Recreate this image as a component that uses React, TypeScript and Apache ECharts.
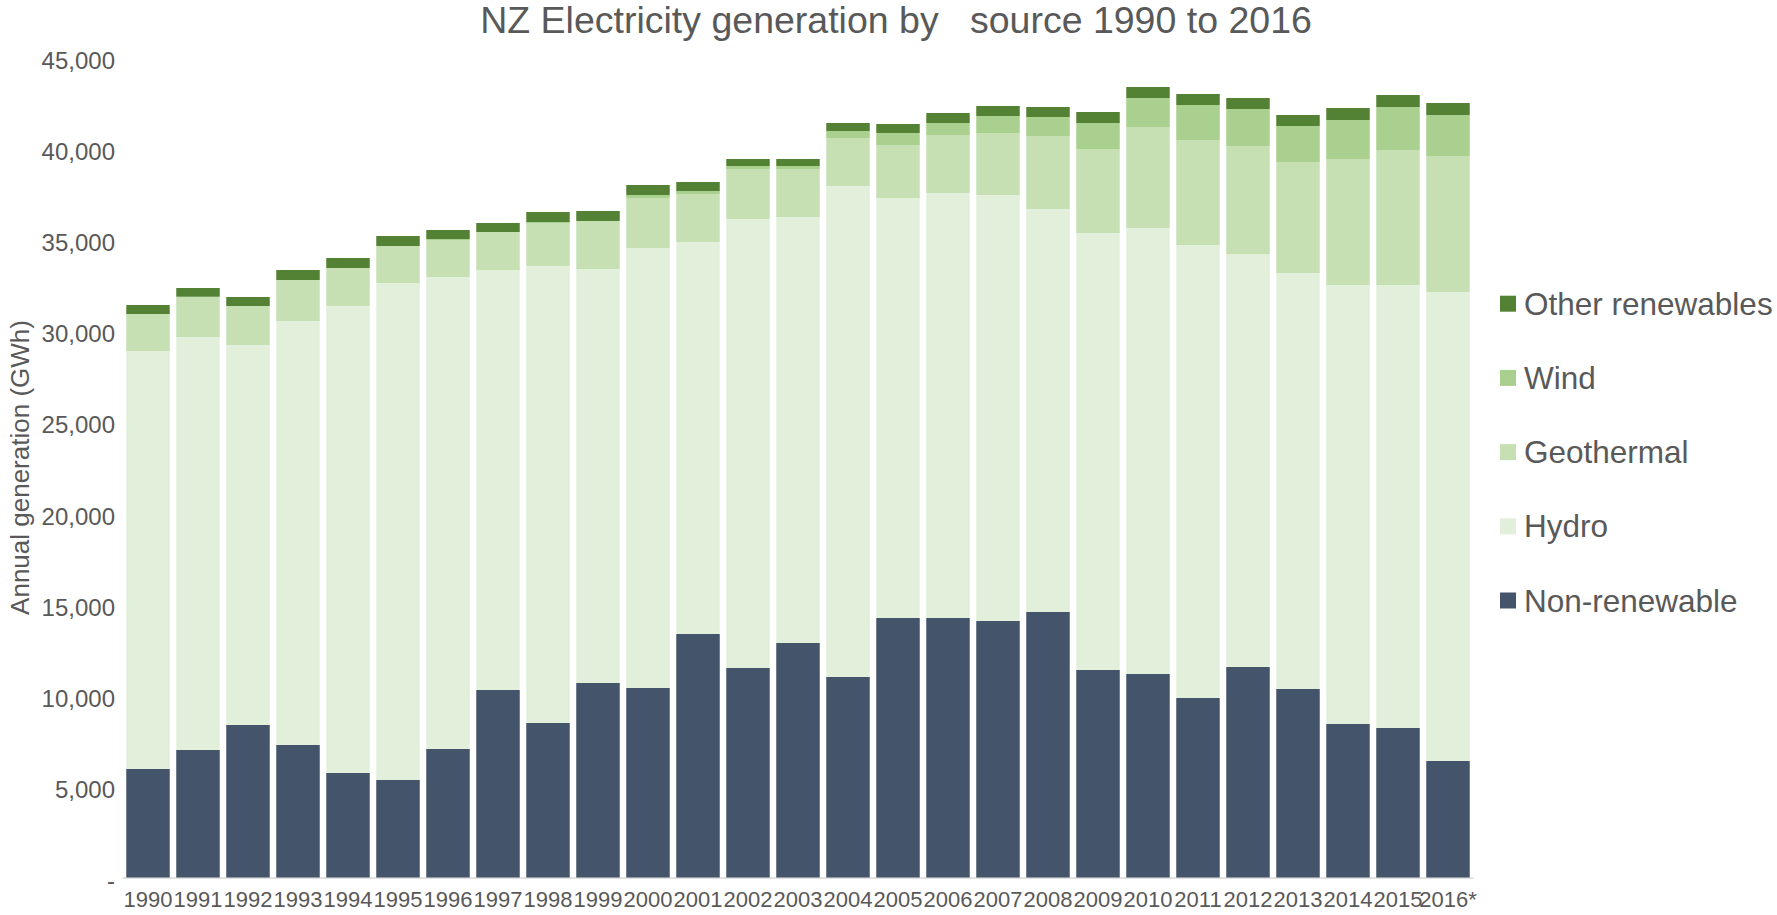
import React, { useEffect, useRef } from "react";
import * as echarts from "echarts";

const years = [
  "1990", "1991", "1992", "1993", "1994", "1995", "1996", "1997", "1998", "1999",
  "2000", "2001", "2002", "2003", "2004", "2005", "2006", "2007", "2008", "2009",
  "2010", "2011", "2012", "2013", "2014", "2015", "2016*",
];

const nonRenewable = [
  5954, 6997, 8369, 7271, 5735, 5351, 7052, 10290, 8479, 10674,
  10400, 13363, 11497, 12869, 11003, 14241, 14241, 14076, 14570, 11387,
  11168, 9851, 11552, 10345, 8424, 8204, 6393,
];
const hydro = [
  22940, 22666, 20855, 23270, 25629, 27275, 25903, 23050, 25080, 22720,
  24146, 21513, 24641, 23379, 26946, 23049, 23324, 23379, 22117, 23983,
  24476, 24860, 22665, 22829, 24091, 24311, 25739,
];
const geothermal = [
  2031, 2211, 2140, 2250, 2085, 2030, 2031, 2085, 2360, 2634,
  2744, 2634, 2744, 2634, 2635, 2909, 3182, 3402, 4006, 4610,
  5542, 5762, 5927, 6091, 6916, 7409, 7463,
];
const wind = [
  0, 0, 0, 0, 0, 0, 55, 0, 55, 0,
  165, 164, 165, 165, 383, 658, 660, 934, 1043, 1427,
  1592, 1921, 2030, 1977, 2140, 2361, 2250,
];
const otherRenewables = [
  493, 478, 494, 549, 549, 549, 494, 494, 548, 549,
  549, 494, 384, 384, 440, 495, 548, 549, 549, 603,
  604, 604, 604, 603, 659, 658, 659,
];

const seriesNames = ["Non-renewable", "Hydro", "Geothermal", "Wind", "Other renewables"];
const seriesColors = ["#44546A", "#E2EFDA", "#C6E0B4", "#A9D08E", "#548235"];
const seriesData = [nonRenewable, hydro, geothermal, wind, otherRenewables];

const titleText = "NZ Electricity generation by   source 1990 to 2016";
const yAxisName = "Annual generation (GWh)";

export default function App() {
  const ref = useRef<HTMLDivElement>(null);

  useEffect(() => {
    if (!ref.current) return;
    const chart = echarts.init(ref.current, undefined, { renderer: "svg" });
    const textColor = "#595959";
    const font = "Liberation Sans, Arial, sans-serif";

    chart.setOption({
      animation: false,
      backgroundColor: "#ffffff",
      textStyle: { fontFamily: font },
      graphic: [
        {
          type: "text",
          x: 896,
          y: 20,
          style: {
            text: titleText,
            fill: textColor,
            font: `37.5px ${font}`,
            align: "center",
            verticalAlign: "middle",
          },
        },
      ],
      grid: {
        left: 123,
        right: 304,
        top: 57.5,
        bottom: 37.5,
        containLabel: false,
        outerBoundsMode: "none",
      },
      legend: {
        orient: "vertical",
        left: 1500,
        top: 287.7,
        padding: 0,
        itemWidth: 16,
        itemHeight: 16,
        itemGap: 42.2,
        icon: "rect",
        selectedMode: false,
        data: [...seriesNames].reverse(),
        textStyle: {
          color: textColor,
          fontSize: 31.5,
          fontFamily: font,
          lineHeight: 32,
          padding: [0, 0, 0, 3],
        },
      },
      xAxis: {
        type: "category",
        data: years,
        axisLine: { show: true, lineStyle: { color: "#D9D9D9", width: 1.5 } },
        axisTick: { show: false },
        axisLabel: {
          interval: 0,
          color: textColor,
          fontSize: 22,
          fontFamily: font,
          margin: 11,
        },
      },
      yAxis: {
        type: "value",
        min: 0,
        max: 45000,
        interval: 5000,
        name: yAxisName,
        nameLocation: "middle",
        nameGap: 90,
        nameMoveOverlap: false,
        nameTextStyle: { color: textColor, fontSize: 26, fontFamily: font },
        axisLine: { show: false },
        axisTick: { show: false },
        splitLine: { show: false },
        axisLabel: {
          color: textColor,
          fontSize: 24,
          fontFamily: font,
          margin: 8,
          verticalAlign: "top",
          lineHeight: 24,
          padding: [-9, 0, 0, 0],
          formatter: (v: number) => (v === 0 ? "-" : v.toLocaleString("en-US")),
        },
      },
      series: seriesNames.map((name, i) => ({
        name,
        type: "bar",
        stack: "total",
        barCategoryGap: "13%",
        itemStyle: { color: seriesColors[i] },
        data: seriesData[i],
      })),
    });

    return () => chart.dispose();
  }, []);

  return (
    <div
      ref={ref}
      style={{ position: "absolute", left: 0, top: 0, width: 1777, height: 915 }}
    />
  );
}
